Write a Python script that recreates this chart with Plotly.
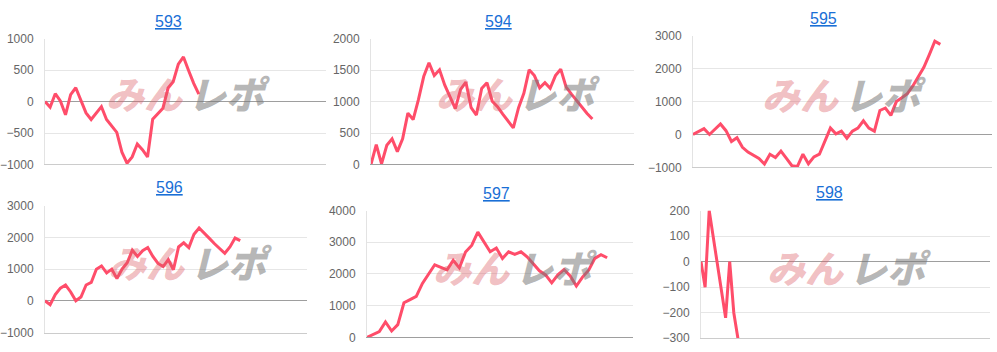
import plotly.graph_objects as go

W, H = 997, 352

titles = ["593", "594", "595", "596", "597", "598"]

s593 = [0, -90, 125, 10, -210, 110, 220, 30, -180, -285, -190, -80, -285, -395, -490, -805,
        -980, -880, -675, -765, -880, -280, -195, -105, 215, 315, 595, 710, 495, 290, 120]
s594 = [0, 316, 10, 306, 408, 204, 408, 816, 714, 1030, 1398, 1617, 1413, 1505, 1260, 1082,
        888, 1194, 1311, 903, 786, 1210, 1300, 1005, 918, 800, 699, 582, 903, 1133, 1505, 1413,
        1219, 1300, 1210, 1413, 1515, 1235, 1122, 1015, 913, 811, 724]
s595 = [0, 90, 175, 0, 160, 320, 115, -215, -100, -390, -535, -630, -730, -900, -600, -700,
        -505, -730, -950, -970, -600, -890, -680, -600, -215, 195, 20, 100, -115, 100, 195, 415,
        195, 100, 730, 805, 580, 1000, 1115, 1240, 1475, 1745, 2040, 2430, 2835, 2740]
s596 = [0, -120, 200, 400, 500, 280, 0, 120, 500, 580, 1000, 1100, 880, 1000, 700, 1000,
        1200, 1600, 1400, 1580, 1680, 1400, 1180, 1080, 1300, 980, 1700, 1830, 1680, 2100, 2300,
        2120, 1970, 1800, 1650, 1500, 1700, 1980, 1900]
s597 = [0, 80, 180, 485, 200, 400, 1090, 1190, 1290, 1700, 2000, 2290, 2210, 2130, 2430, 2190,
        2690, 2900, 3320, 3000, 2700, 2820, 2490, 2700, 2620, 2700, 2540, 2320, 2100, 1970, 1720,
        1970, 2140, 1940, 1620, 1900, 2120, 2490, 2610, 2510]
s598 = [0, -100, 200, 95, -10, -115, -220, 0, -200, -300]

series = [s593, s594, s595, s596, s597, s598]
y_ranges = [(-1000, 1000), (0, 2000), (-1000, 3000), (-1000, 3000), (0, 4000), (-300, 200)]
y_steps = [500, 500, 1000, 1000, 1000, 100]
x_slots = [54.8, 49.9, 54.4, 51.0, 43.2, 70.5]

# plot boxes in pixels: (left, right, top, bottom)
boxes = [(45, 326, 33, 164), (371, 634, 33, 164), (693, 992, 30, 167),
         (45, 307, 207, 339), (367, 633, 212, 344), (701, 990, 212, 345)]
title_pos = [(168, 15), (498, 15), (823, 12), (169, 188), (496, 194), (829, 193)]
mark_pos = [(185, 89), (515, 89), (841, 90), (187, 265), (512, 270), (846, 270)]

fig = go.Figure()
annotations = []
layout = {}
for i, (s, box) in enumerate(zip(series, boxes)):
    n = i + 1
    xa = "x" if n == 1 else f"x{n}"
    ya = "y" if n == 1 else f"y{n}"
    fig.add_trace(go.Scatter(
        x=list(range(len(s))), y=s, mode="lines", xaxis=xa, yaxis=ya,
        line=dict(color="#ff4d6a", width=3), hoverinfo="skip", showlegend=False))
    l, r, t, b = box
    lo, hi = y_ranges[i]
    layout[f"xaxis{'' if n == 1 else n}"] = dict(
        domain=[l / W, r / W], range=[0, x_slots[i]], anchor=ya,
        showticklabels=False, showgrid=False, zeroline=False, ticks="",
        showline=True, linewidth=1,
        linecolor="#9e9e9e" if lo == 0 else "#cccccc", fixedrange=True)
    layout[f"yaxis{'' if n == 1 else n}"] = dict(
        domain=[1 - b / H, 1 - t / H], range=[lo, hi], anchor=xa,
        dtick=y_steps[i], tick0=0, showgrid=True, gridcolor="#e6e6e6", gridwidth=1,
        zeroline=True, zerolinecolor="#9e9e9e", zerolinewidth=1,
        showline=True, linecolor="#e3e3e3", linewidth=1, ticks="",
        ticklabelstandoff=8,
        tickfont=dict(family="Arial, Liberation Sans", size=12, color="#666666"),
        fixedrange=True)
    tx, ty = title_pos[i]
    annotations.append(dict(
        text=f"<u>{titles[i]}</u>", x=tx / W, y=1 - ty / H, xref="paper", yref="paper",
        xanchor="center", yanchor="middle", showarrow=False,
        font=dict(family="Arial, Liberation Sans", size=16, color="#1a6fd6")))
    mx, my = mark_pos[i]
    annotations.append(dict(
        text="<b>みん</b>", x=(mx + 1) / W, y=1 - my / H, xref="paper", yref="paper",
        xanchor="right", yanchor="middle", showarrow=False,
        font=dict(family="Noto Sans CJK JP Black, Noto Sans CJK JP", size=38, weight=900,
                  style="italic", color="rgba(220,90,100,0.40)")))
    annotations.append(dict(
        text="<b>レポ</b>", x=(mx + 1) / W, y=1 - my / H, xref="paper", yref="paper",
        xanchor="left", yanchor="middle", showarrow=False,
        font=dict(family="Noto Sans CJK JP Black, Noto Sans CJK JP", size=38, weight=900,
                  style="italic", color="rgba(120,120,120,0.55)")))

fig.update_layout(
    width=W, height=H, margin=dict(l=0, r=0, t=0, b=0),
    paper_bgcolor="white", plot_bgcolor="white",
    annotations=annotations, **layout)

fig.write_html("out.html", config={"displayModeBar": False})
